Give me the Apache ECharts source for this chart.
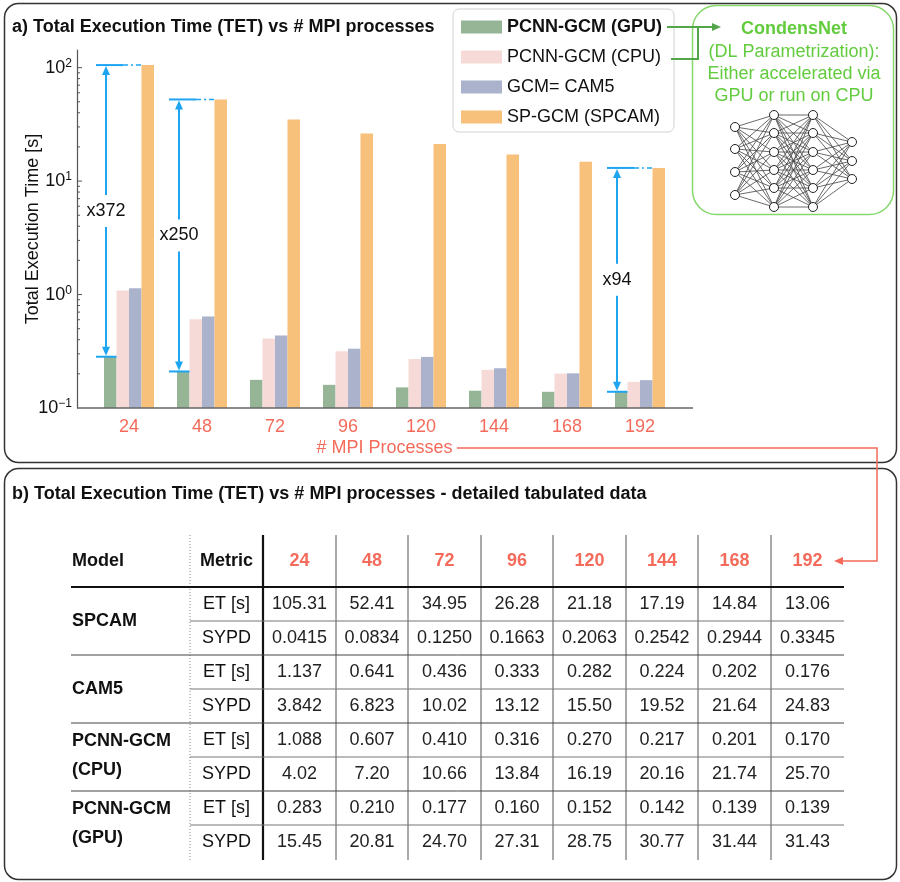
<!DOCTYPE html>
<html>
<head>
<meta charset="utf-8">
<title>TET vs MPI processes</title>
<script src="https://cdn.jsdelivr.net/npm/echarts@6/dist/echarts.min.js"></script>
<style>
    html, body { margin: 0; padding: 0; background: #fff; }
    #chart { width: 900px; height: 882px; }
</style>
</head>
<body>
<div id="chart"></div>
<script>
// number of MPI processes (x categories / table columns)
var mpiProcs = ['24', '48', '72', '96', '120', '144', '168', '192'];

// execution time [s] and simulated years per day, per model
var etSpcam   = [105.31, 52.41, 34.95, 26.28, 21.18, 17.19, 14.84, 13.06];
var sypdSpcam = [0.0415, 0.0834, 0.1250, 0.1663, 0.2063, 0.2542, 0.2944, 0.3345];
var etCam5    = [1.137, 0.641, 0.436, 0.333, 0.282, 0.224, 0.202, 0.176];
var sypdCam5  = [3.842, 6.823, 10.02, 13.12, 15.50, 19.52, 21.64, 24.83];
var etCpu     = [1.088, 0.607, 0.410, 0.316, 0.270, 0.217, 0.201, 0.170];
var sypdCpu   = [4.02, 7.20, 10.66, 13.84, 16.19, 20.16, 21.74, 25.70];
var etGpu     = [0.283, 0.210, 0.177, 0.160, 0.152, 0.142, 0.139, 0.139];
var sypdGpu   = [15.45, 20.81, 24.70, 27.31, 28.75, 30.77, 31.44, 31.43];

var seriesNames = ['PCNN-GCM (GPU)', 'PCNN-GCM (CPU)', 'GCM= CAM5', 'SP-GCM (SPCAM)'];
// speed-up arrows drawn at these columns
var speedupCols = [0, 1, 7];

var FONT = '"Liberation Sans", Arial, Helvetica, sans-serif';
var RED = '#f46b5b';
var BLUE = '#1ea5f2';
var GREEN = '#52a548';
var AXIS_OFFSET = 15.5;

var chart = echarts.init(document.getElementById('chart'));

var seriesColors = ['#95b596', '#f5dad7', '#aab2cc', '#f7c07b'];
var seriesValues = [etGpu, etCpu, etCam5, etSpcam];

function buildBars() {
    var list = [];
    for (var i = 0; i < seriesNames.length; i++) {
        list.push({
            type: 'bar',
            name: seriesNames[i],
            data: seriesValues[i],
            barWidth: 12.5,
            barGap: '0%',
            itemStyle: { color: seriesColors[i] },
            z: 2
        });
    }
    return list;
}

// small inward ticks on the log axis (decades + 2..9 subdivisions)
var majorTicks = [1, 10, 100];
var minorTicks = [];
[0.1, 1, 10].forEach(function (d) {
    for (var k = 2; k <= 9; k++) minorTicks.push(+(d * k).toPrecision(2));
});
var tickData = majorTicks.map(function (v) { return [0, v, 5]; })
    .concat(minorTicks.map(function (v) { return [0, v, 3]; }));

function renderTick(params, api) {
    var ax = params.coordSys.x - AXIS_OFFSET;
    var y = api.coord([0, api.value(1)])[1];
    return {
        type: 'line',
        shape: { x1: ax, y1: y, x2: ax + api.value(2), y2: y },
        style: { stroke: '#555', lineWidth: 1 }
    };
}

var speedupData = speedupCols.map(function (i) { return [i, etSpcam[i], etGpu[i]]; });

function renderSpeedup(params, api) {
    var top = api.value(1), bot = api.value(2);
    var pTop = api.coord([api.value(0), top]);
    var pBot = api.coord([api.value(0), bot]);
    var cx = pTop[0], yT = pTop[1], yB = pBot[1];
    var ax = cx - 23;
    var mid = (yT + yB) / 2;
    var st = { stroke: BLUE, lineWidth: 2 };
    return {
        type: 'group',
        children: [
            { type: 'line', shape: { x1: cx - 33, y1: yT, x2: cx - 6, y2: yT }, style: st },
            { type: 'line', shape: { x1: cx - 6, y1: yT, x2: cx + 12.5, y2: yT },
              style: { stroke: BLUE, lineWidth: 1.5, lineDash: [5, 3, 2, 3] } },
            { type: 'line', shape: { x1: cx - 33, y1: yB, x2: cx - 12.5, y2: yB }, style: st },
            { type: 'line', shape: { x1: ax, y1: yT + 8, x2: ax, y2: mid - 16 }, style: st },
            { type: 'line', shape: { x1: ax, y1: mid + 16, x2: ax, y2: yB - 8 }, style: st },
            { type: 'polygon', shape: { points: [[ax, yT + 1], [ax - 4, yT + 10], [ax + 4, yT + 10]] }, style: { fill: BLUE } },
            { type: 'polygon', shape: { points: [[ax, yB - 1], [ax - 4, yB - 10], [ax + 4, yB - 10]] }, style: { fill: BLUE } },
            { type: 'text', style: {
                text: 'x' + Math.round(top / bot), x: ax, y: mid,
                fill: '#111', font: '18px ' + FONT,
                align: 'center', verticalAlign: 'middle',
                textAlign: 'center', textVerticalAlign: 'middle'
            } }
        ]
    };
}

// ---------- graphic helpers (frames, table, diagram) ----------
var g = [];
function line(x1, y1, x2, y2, color, w, dash) {
    g.push({ type: 'line', z: 10, silent: true,
        shape: { x1: x1, y1: y1, x2: x2, y2: y2 },
        style: { stroke: color, lineWidth: w || 1, lineDash: dash || null } });
}
function poly(points, color, w) {
    g.push({ type: 'polyline', z: 10, silent: true, shape: { points: points },
        style: { stroke: color, lineWidth: w || 1, fill: null } });
}
function tri(points, color) {
    g.push({ type: 'polygon', z: 10, silent: true, shape: { points: points }, style: { fill: color } });
}
function text(x, y, s, size, color, weight, align) {
    g.push({ type: 'text', z: 11, silent: true, style: {
        text: s, x: x, y: y, fill: color || '#111',
        font: (weight || 'normal') + ' ' + size + 'px ' + FONT,
        align: align || 'center', verticalAlign: 'middle',
        textAlign: align || 'center', textVerticalAlign: 'middle'
    } });
}
function box(x, y, w, h, r, color, lw) {
    g.push({ type: 'rect', z: 1, silent: true,
        shape: { x: x, y: y, width: w, height: h, r: r },
        style: { stroke: color, lineWidth: lw, fill: null } });
}

// panel frames and titles
box(4.5, 3.5, 892, 459, 14, '#333', 1.5);
box(4.5, 468.5, 892, 411, 14, '#333', 1.5);
text(12, 27, 'a) Total Execution Time (TET) vs # MPI processes', 18, '#111', 'bold', 'left');
text(12, 494, 'b) Total Execution Time (TET) vs # MPI processes - detailed tabulated data', 18, '#111', 'bold', 'left');

// x axis base line (spans past the bar groups)
line(77, 408, 693, 408, '#666', 1.5);

// CondensNet box
g.push({ type: 'rect', z: 5, silent: true,
    shape: { x: 692.5, y: 5.5, width: 201, height: 209, r: 24 },
    style: { stroke: '#86d86c', lineWidth: 1.5, fill: '#fff' } });
text(794, 29, 'CondensNet', 18, '#62cc3e', 'bold');
text(794, 52, '(DL Parametrization):', 18, '#62cc3e');
text(794, 74, 'Either accelerated via', 18, '#62cc3e');
text(794, 96, 'GPU or run on CPU', 18, '#62cc3e');

// little neural network sketch
var layers = [
    { x: 735, ys: [127, 149, 172, 195] },
    { x: 774, ys: [115, 133, 152, 170, 188, 207] },
    { x: 813, ys: [115, 133, 152, 170, 188, 207] },
    { x: 852, ys: [142, 161, 179] }
];
for (var l = 0; l < layers.length - 1; l++) {
    layers[l].ys.forEach(function (ya) {
        layers[l + 1].ys.forEach(function (yb) {
            g.push({ type: 'line', z: 6, silent: true,
                shape: { x1: layers[l].x, y1: ya, x2: layers[l + 1].x, y2: yb },
                style: { stroke: '#444', lineWidth: 0.8 } });
        });
    });
}
layers.forEach(function (ly) {
    ly.ys.forEach(function (y) {
        g.push({ type: 'circle', z: 7, silent: true, shape: { cx: ly.x, cy: y, r: 4.5 },
            style: { fill: '#fff', stroke: '#222', lineWidth: 1 } });
    });
});

// green arrows from legend to CondensNet
poly([[667, 27], [713, 27]], GREEN, 2);
tri([[712, 23], [721, 27], [712, 31]], GREEN);
poly([[671, 59], [698, 59], [698, 27]], GREEN, 2);

// red link from x axis name to table header
poly([[457, 448], [877, 448], [877, 561], [842, 561]], RED, 1.5);
tri([[843, 557], [834, 561], [843, 565]], RED);

// ---------- table ----------
var colEdges = [263, 336, 408, 481, 553, 626, 698, 771, 844];
var headY = 561, rowTop = 587, rowH = 34;
var tableModels = [
    { name: ['SPCAM'], et: etSpcam, sypd: sypdSpcam,
      fEt: function (v) { return v.toFixed(2); }, fSy: function (v) { return v.toFixed(4); } },
    { name: ['CAM5'], et: etCam5, sypd: sypdCam5,
      fEt: function (v) { return v.toFixed(3); }, fSy: function (v) { return v.toPrecision(4); } },
    { name: ['PCNN-GCM', '(CPU)'], et: etCpu, sypd: sypdCpu,
      fEt: function (v) { return v.toFixed(3); }, fSy: function (v) { return v.toFixed(2); } },
    { name: ['PCNN-GCM', '(GPU)'], et: etGpu, sypd: sypdGpu,
      fEt: function (v) { return v.toFixed(3); }, fSy: function (v) { return v.toFixed(2); } }
];
var tableBottom = rowTop + rowH * tableModels.length * 2 + 1;

text(72, headY, 'Model', 18, '#111', 'bold', 'left');
text(226.5, headY, 'Metric', 18, '#111', 'bold');
mpiProcs.forEach(function (m, j) {
    text((colEdges[j] + colEdges[j + 1]) / 2, headY, m, 18, RED, 'bold');
});

line(190, 535, 190, tableBottom, '#888', 1, [1, 2]);
line(263, 535, 263, tableBottom, '#111', 2.2);
for (var c = 1; c < colEdges.length - 1; c++) {
    line(colEdges[c], 535, colEdges[c], tableBottom, '#555', 1);
}
line(71, rowTop, 844, rowTop, '#111', 2.2);

tableModels.forEach(function (md, mi) {
    var y0 = rowTop + mi * 2 * rowH;
    var yc = y0 + rowH;
    if (md.name.length === 1) {
        text(72, yc, md.name[0], 18, '#111', 'bold', 'left');
    } else {
        text(72, yc - 16, md.name[0], 18, '#111', 'bold', 'left');
        text(72, yc + 13, md.name[1], 18, '#111', 'bold', 'left');
    }
    text(226.5, y0 + rowH / 2, 'ET [s]', 18, '#111');
    text(226.5, y0 + rowH * 1.5, 'SYPD', 18, '#111');
    for (var j = 0; j < mpiProcs.length; j++) {
        var cx = (colEdges[j] + colEdges[j + 1]) / 2;
        text(cx, y0 + rowH / 2, md.fEt(md.et[j]), 18, '#222');
        text(cx, y0 + rowH * 1.5, md.fSy(md.sypd[j]), 18, '#222');
    }
    line(190, y0 + rowH, 844, y0 + rowH, '#777', 1);
    if (mi < tableModels.length - 1) line(71, y0 + 2 * rowH, 844, y0 + 2 * rowH, '#444', 1);
});

var option = {
    animation: false,
    backgroundColor: '#fff',
    textStyle: { fontFamily: FONT },
    grid: { left: 92.5, right: 223.5, top: 50, bottom: 474, outerBoundsMode: 'none' },
    legend: {
        data: seriesNames,
        orient: 'vertical',
        left: 453, top: 9,
        padding: [9, 12, 6, 8],
        itemWidth: 41, itemHeight: 13, itemGap: 12,
        icon: 'rect',
        backgroundColor: '#fff',
        borderColor: '#d2d2d2', borderWidth: 1, borderRadius: 6,
        selectedMode: false,
        textStyle: {
            fontSize: 18, color: '#111', fontFamily: FONT,
            rich: { b: { fontSize: 18, fontWeight: 'bold', color: '#111', fontFamily: FONT } }
        },
        formatter: function (n) { return n === seriesNames[0] ? '{b|' + n + '}' : n; }
    },
    xAxis: {
        type: 'category',
        data: mpiProcs,
        axisLine: { show: false },
        axisTick: { show: false },
        axisLabel: { color: RED, fontSize: 18, margin: 10, fontFamily: FONT },
        name: '# MPI Processes',
        nameLocation: 'middle',
        nameGap: 31,
        nameTextStyle: { color: RED, fontSize: 18, fontFamily: FONT }
    },
    yAxis: {
        type: 'log',
        logBase: 10,
        min: 0.1,
        max: 143,
        startValue: 0.1,
        offset: AXIS_OFFSET,
        name: 'Total Execution Time [s]',
        nameLocation: 'middle',
        nameGap: 35,
        nameMoveOverlap: false,
        nameTextStyle: { color: '#111', fontSize: 18, fontFamily: FONT },
        axisLine: { show: true, lineStyle: { color: '#555', width: 1.2 } },
        axisTick: { show: false },
        splitLine: { show: false },
        axisLabel: {
            margin: 5,
            formatter: function (v) {
                var lg = Math.log(v) / Math.LN10;
                var e = Math.round(lg);
                if (Math.abs(lg - e) > 1e-6) return '';
                return '{b|10}{s|' + (e < 0 ? '\u2212' : '') + Math.abs(e) + '}';
            },
            rich: {
                b: { fontSize: 18, color: '#111', fontFamily: FONT, lineHeight: 20 },
                s: { fontSize: 12, color: '#111', fontFamily: FONT, verticalAlign: 'top', lineHeight: 12 }
            }
        }
    },
    series: buildBars().concat([
        { type: 'custom', name: 'ticks', data: tickData, renderItem: renderTick, clip: false, z: 3, silent: true },
        { type: 'custom', name: 'speedup', data: speedupData, renderItem: renderSpeedup, clip: false, z: 4, silent: true }
    ]),
    graphic: g
};

chart.setOption(option);
</script>
</body>
</html>
